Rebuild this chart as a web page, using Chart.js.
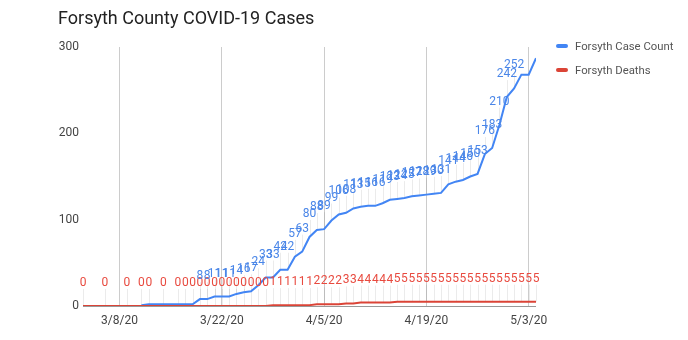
<!DOCTYPE html>
<html>
<head>
<meta charset="utf-8">
<script src="https://cdn.jsdelivr.net/npm/chart.js@4.4.1/dist/chart.umd.min.js"></script>
<style>
  body { margin: 0; background: #fff; font-family: Roboto, Arial, sans-serif; }
  .wrap { position: relative; width: 688px; height: 340px; }
  .title { position: absolute; left: 58px; top: 7px; font-size: 18px; color: #222; }
  .legend { position: absolute; left: 556px; top: 39px; font-size: 11.3px; color: #555; }
  .legend div { height: 24px; line-height: 16px; white-space: nowrap; }
  .legend span { display: inline-block; width: 12px; height: 4px; border-radius: 2px; margin-right: 7px; vertical-align: middle; position: relative; top: -1px; }
</style>
</head>
<body>
<div class="wrap">
  <canvas id="myChart" width="688" height="340"></canvas>
  <div class="title">Forsyth County COVID-19 Cases</div>
  <div class="legend">
    <div><span style="background:#4285f4"></span>Forsyth Case Count</div>
    <div><span style="background:#db4437"></span>Forsyth Deaths</div>
  </div>
</div>
<script>
const dates = [
  '3/3/20','3/6/20','3/9/20','3/11/20','3/12/20','3/14/20',
  '3/16/20','3/17/20','3/18/20','3/19/20','3/20/20','3/21/20','3/22/20','3/23/20',
  '3/24/20','3/25/20','3/26/20','3/27/20','3/28/20','3/29/20','3/30/20','3/31/20',
  '4/1/20','4/2/20','4/3/20','4/4/20','4/5/20','4/6/20','4/7/20','4/8/20','4/9/20','4/10/20',
  '4/11/20','4/12/20','4/13/20','4/14/20','4/15/20','4/16/20','4/17/20','4/18/20','4/19/20','4/20/20',
  '4/21/20','4/22/20','4/23/20','4/24/20','4/25/20','4/26/20','4/27/20','4/28/20','4/29/20','4/30/20',
  '5/1/20','5/2/20','5/3/20','5/4/20'
];

const caseCount = [
  null, null, null, 1, 2, 2,
  2, 2, 2, 8, 8, 11, 11, 11,
  14, 16, 17, 24, 33, 33, 42, 42,
  57, 63, 80, 88, 89, 99, 106, 108, 113, 115,
  116, 116, 119, 123, 124, 125, 127, 128, 129, 130,
  131, 141, 144, 146, 150, 153, 176, 183, 210, 242,
  252, 268, 268, 287
];

const deaths = [
  0, 0, 0, 0, 0, 0,
  0, 0, 0, 0, 0, 0, 0, 0,
  0, 0, 0, 0, 0, 1, 1, 1,
  1, 1, 1, 2, 2, 2, 2, 3, 3, 4,
  4, 4, 4, 4, 5, 5, 5, 5, 5, 5,
  5, 5, 5, 5, 5, 5, 5, 5, 5, 5,
  5, 5, 5, 5
];

const tickDates = ['3/8/20', '3/22/20', '4/5/20', '4/19/20', '5/3/20'];
const yTicks = [0, 100, 200, 300];

// M/D/YY -> day number
function dayNum(s) {
  const p = s.split('/').map(Number);
  return Date.UTC(2000 + p[2], p[0] - 1, p[1]) / 86400000;
}

const toPoints = (arr) => arr.map((v, i) => ({ x: dayNum(dates[i]), y: v }));

// google-style annotations: label above each point with a faint stem
function layoutLabels(chart) {
  const ctx = chart.ctx;
  const area = chart.chartArea;
  const placed = [];
  ctx.save();
  ctx.font = '12px Roboto';
  [1, 0].forEach((dsIndex) => {
    const ds = chart.data.datasets[dsIndex];
    const meta = chart.getDatasetMeta(dsIndex);
    meta.data.forEach((pt, i) => {
      const v = ds.data[i].y;
      if (v === null) return;
      const text = String(v);
      const w = ctx.measureText(text).width;
      const cy = pt.y - 23;
      const box = { l: pt.x - w / 2, r: pt.x + w / 2, t: cy - 5, b: cy + 5 };
      if (box.t - 1 < area.top) return;
      const hit = placed.some((b) => b.ds !== dsIndex &&
        Math.min(b.r, box.r) - Math.max(b.l, box.l) > 0 &&
        Math.min(b.b, box.b) - Math.max(b.t, box.t) > 4);
      if (hit) return;
      placed.push(Object.assign(box, { ds: dsIndex, x: pt.x, y: pt.y, cy: cy, text: text, color: ds.labelColor }));
    });
  });
  ctx.restore();
  return placed;
}

const annotations = {
  id: 'annotations',
  beforeDatasetsDraw(chart) {
    const ctx = chart.ctx;
    chart.$labels = layoutLabels(chart);
    ctx.save();
    ctx.strokeStyle = 'rgba(0,0,0,0.08)';
    ctx.lineWidth = 1;
    chart.$labels.forEach((l) => {
      ctx.beginPath();
      ctx.moveTo(Math.round(l.x) + 0.5, l.y);
      ctx.lineTo(Math.round(l.x) + 0.5, l.b + 1);
      ctx.stroke();
    });
    ctx.restore();
  },
  afterDatasetsDraw(chart) {
    const ctx = chart.ctx;
    ctx.save();
    ctx.font = '12px Roboto';
    ctx.textAlign = 'center';
    ctx.textBaseline = 'middle';
    (chart.$labels || []).forEach((l) => {
      ctx.fillStyle = l.color;
      ctx.fillText(l.text, l.x, l.cy);
    });
    ctx.restore();
  }
};

new Chart(document.getElementById('myChart'), {
  type: 'line',
  data: {
    datasets: [
      {
        label: 'Forsyth Case Count',
        data: toPoints(caseCount),
        borderColor: '#4285f4',
        labelColor: '#4a86e8',
        borderWidth: 2,
        pointRadius: 0,
        tension: 0,
        order: 1
      },
      {
        label: 'Forsyth Deaths',
        data: toPoints(deaths),
        borderColor: '#db4437',
        labelColor: '#e84a3f',
        borderWidth: 2,
        pointRadius: 0,
        tension: 0,
        order: 0
      }
    ]
  },
  options: {
    responsive: false,
    animation: false,
    layout: { padding: { top: 47, right: 152, bottom: 0, left: 0 } },
    plugins: {
      legend: { display: false },
      tooltip: { enabled: false }
    },
    scales: {
      x: {
        type: 'linear',
        min: dayNum(dates[0]),
        max: dayNum(dates[dates.length - 1]),
        afterBuildTicks: (scale) => {
          scale.ticks = tickDates.map((d) => ({ value: dayNum(d) }));
        },
        afterFit: (scale) => { scale.height = 34; },
        ticks: {
          autoSkip: false,
          maxRotation: 0,
          padding: 8,
          color: '#444',
          font: { family: 'Roboto', size: 12 },
          callback: (v) => tickDates.find((d) => dayNum(d) === v) || ''
        },
        grid: { color: '#cccccc', drawTicks: false },
        border: { display: false }
      },
      y: {
        min: 0,
        max: 300,
        afterBuildTicks: (scale) => {
          scale.ticks = yTicks.map((v) => ({ value: v }));
        },
        afterFit: (scale) => { scale.width = 83; },
        ticks: {
          padding: 4,
          color: '#444',
          font: { family: 'Roboto', size: 12 }
        },
        grid: {
          drawTicks: false,
          color: (c) => (c.tick && c.tick.value === 0 ? '#999' : 'rgba(255,255,255,0)')
        },
        border: { display: false }
      }
    }
  },
  plugins: [annotations]
});
</script>
</body>
</html>
